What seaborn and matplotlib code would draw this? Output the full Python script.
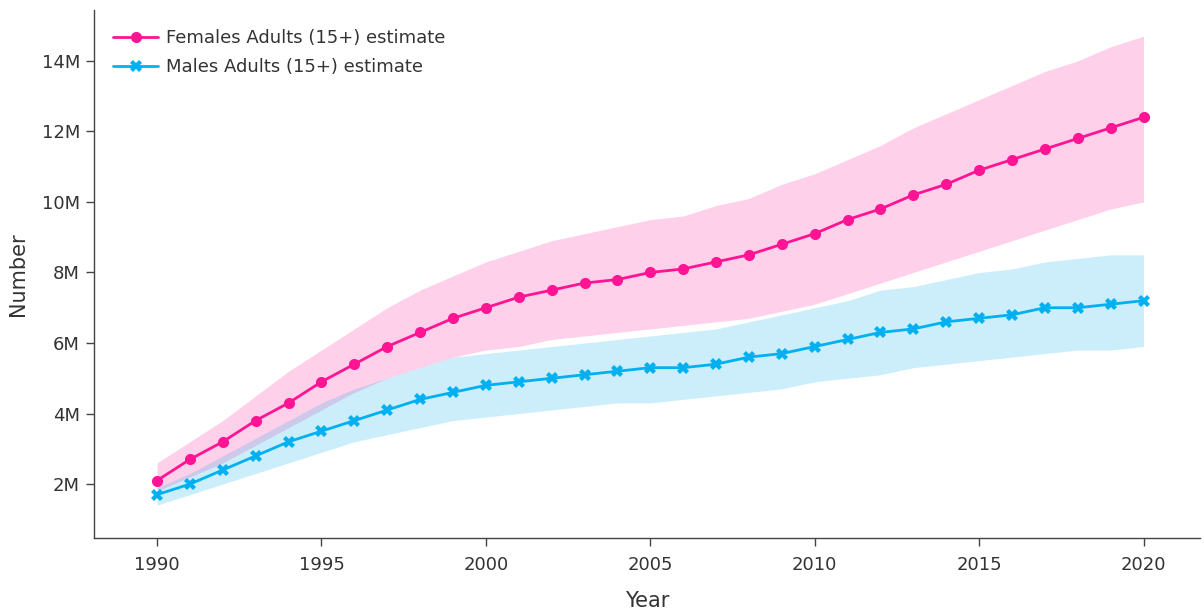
import matplotlib
matplotlib.use("Agg")
import matplotlib.pyplot as plt
import seaborn as sns
import pandas as pd
import numpy as np
from matplotlib.ticker import FuncFormatter

years = list(range(1990, 2021))
female_est = [2.1, 2.7, 3.2, 3.8, 4.3, 4.9, 5.4, 5.9, 6.3, 6.7, 7.0, 7.3, 7.5, 7.7, 7.8, 8.0,
              8.1, 8.3, 8.5, 8.8, 9.1, 9.5, 9.8, 10.2, 10.5, 10.9, 11.2, 11.5, 11.8, 12.1, 12.4]
female_hi = [2.6, 3.2, 3.8, 4.5, 5.2, 5.8, 6.4, 7.0, 7.5, 7.9, 8.3, 8.6, 8.9, 9.1, 9.3, 9.5,
             9.6, 9.9, 10.1, 10.5, 10.8, 11.2, 11.6, 12.1, 12.5, 12.9, 13.3, 13.7, 14.0, 14.4, 14.7]
female_lo = [1.8, 2.2, 2.6, 3.1, 3.6, 4.1, 4.6, 5.0, 5.3, 5.6, 5.8, 5.9, 6.1, 6.2, 6.3, 6.4,
             6.5, 6.6, 6.7, 6.9, 7.1, 7.4, 7.7, 8.0, 8.3, 8.6, 8.9, 9.2, 9.5, 9.8, 10.0]
male_est = [1.7, 2.0, 2.4, 2.8, 3.2, 3.5, 3.8, 4.1, 4.4, 4.6, 4.8, 4.9, 5.0, 5.1, 5.2, 5.3,
            5.3, 5.4, 5.6, 5.7, 5.9, 6.1, 6.3, 6.4, 6.6, 6.7, 6.8, 7.0, 7.0, 7.1, 7.2]
male_hi = [1.9, 2.3, 2.8, 3.3, 3.8, 4.3, 4.7, 5.0, 5.3, 5.6, 5.7, 5.8, 5.9, 6.0, 6.1, 6.2,
           6.3, 6.4, 6.6, 6.8, 7.0, 7.2, 7.5, 7.6, 7.8, 8.0, 8.1, 8.3, 8.4, 8.5, 8.5]
male_lo = [1.4, 1.7, 2.0, 2.3, 2.6, 2.9, 3.2, 3.4, 3.6, 3.8, 3.9, 4.0, 4.1, 4.2, 4.3, 4.3,
           4.4, 4.5, 4.6, 4.7, 4.9, 5.0, 5.1, 5.3, 5.4, 5.5, 5.6, 5.7, 5.8, 5.8, 5.9]

M = 1e6
female_label = "Females Adults (15+) estimate"
male_label = "Males Adults (15+) estimate"
pink = "#FF1493"
blue = "#00B0F0"

df = pd.DataFrame({
    "Year": years * 2,
    "Number": [v * M for v in female_est] + [v * M for v in male_est],
    "Series": [female_label] * len(years) + [male_label] * len(years),
})

sns.set_theme(style="white")
plt.rcParams['font.family'] = ['DejaVu Sans']

fig = plt.figure(figsize=(12.04, 6.10), dpi=100)
ax = fig.add_axes([0.078, 0.118, 0.919, 0.866])

ax.fill_between(years, [v * M for v in female_lo], [v * M for v in female_hi],
                color=pink, alpha=0.2, linewidth=0)
ax.fill_between(years, [v * M for v in male_lo], [v * M for v in male_hi],
                color="#00AEEF", alpha=0.2, linewidth=0)

sns.lineplot(data=df, x="Year", y="Number", hue="Series", style="Series",
             palette={female_label: pink, male_label: blue},
             markers={female_label: "o", male_label: "X"},
             dashes=False, linewidth=2, markersize=8, markeredgewidth=0, ax=ax)

ax.set_xlim(1988.08, 2021.73)
ax.set_ylim(0.47 * M, 15.45 * M)
ax.set_xticks([1990, 1995, 2000, 2005, 2010, 2015, 2020])
ax.set_yticks([2 * M, 4 * M, 6 * M, 8 * M, 10 * M, 12 * M, 14 * M])
ax.yaxis.set_major_formatter(FuncFormatter(lambda v, p: f"{int(round(v / M))}M"))
ax.tick_params(axis="both", which="major", direction="out", length=6, width=1,
               color="#444444", labelsize=13, labelcolor="#333333", left=True, bottom=True)
ax.tick_params(axis="x", pad=7)
ax.tick_params(axis="y", pad=4)
ax.set_xlabel("Year", fontsize=15, color="#333333", labelpad=12)
ax.set_ylabel("Number", fontsize=15, color="#333333", labelpad=10)
for s in ["top", "right"]:
    ax.spines[s].set_visible(False)
for s in ["left", "bottom"]:
    ax.spines[s].set_color("#444444")
    ax.spines[s].set_linewidth(1)

leg = ax.legend(loc="upper left", frameon=False, fontsize=13, title=None,
                bbox_to_anchor=(0.003, 0.994), handlelength=2.45,
                handletextpad=0.45, labelspacing=0.6)
for t in leg.get_texts():
    t.set_color("#333333")

fig.savefig("out.png", dpi=100)
